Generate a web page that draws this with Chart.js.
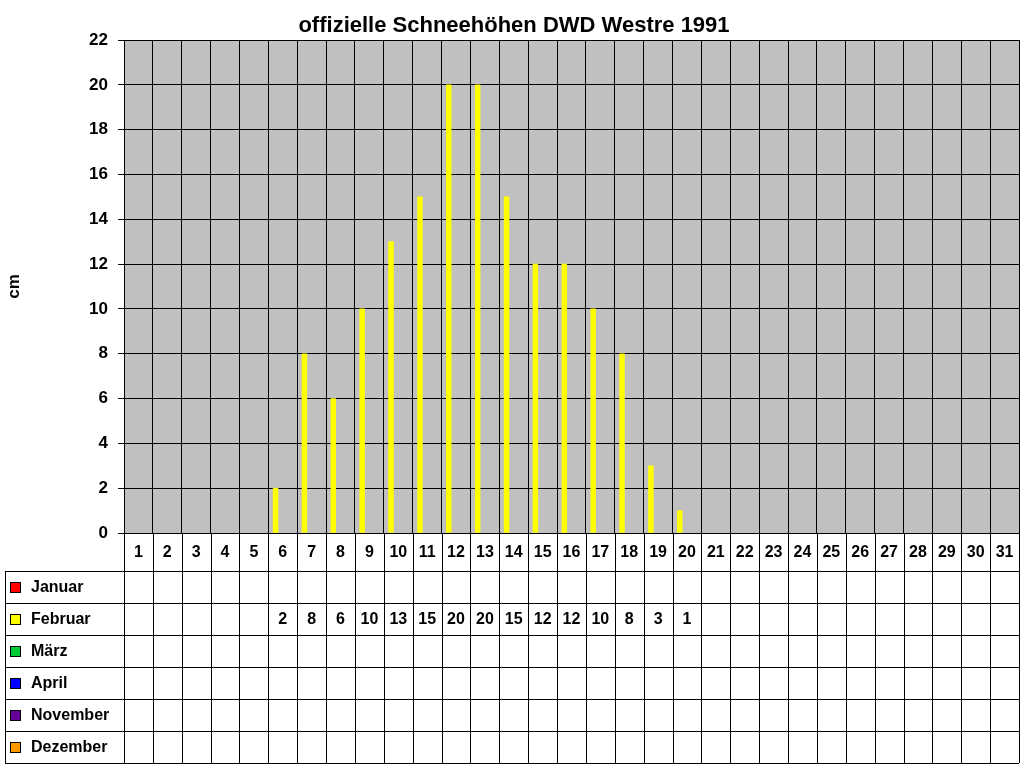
<!DOCTYPE html>
<html><head><meta charset="utf-8">
<script src="https://cdn.jsdelivr.net/npm/chart.js@4"></script>
<style>html,body{margin:0;padding:0;background:#fff}canvas{display:block}</style>
</head><body>
<canvas id="c" width="1024" height="768"></canvas>
<script>
const days = Array.from({length:31},(_,i)=>String(i+1));
const months = ["Januar","Februar","März","April","November","Dezember"];
const colors = ["#ff0000","#ffff00","#00cc33","#0000ff","#660099","#ff9900"];
const januar = [];
const februar = [null,null,null,null,null,2,8,6,10,13,15,20,20,15,12,12,10,8,3,1];
const maerz = [];
const april = [];
const november = [];
const dezember = [];
const series = [januar,februar,maerz,april,november,dezember];
const yTicksMax = 22;

const F = "Arial, 'Liberation Sans', sans-serif";
const rowTop = 571, rowH = 32, tableBottom = 763, legendLeft = 5;

const tablePlugin = {
  id:'tbl',
  beforeDraw(ch){
    const a = ch.chartArea, c = ch.ctx;
    c.save(); c.fillStyle='#c0c0c0'; c.fillRect(a.left,a.top,a.right-a.left,a.bottom-a.top); c.restore();
  },
  afterDraw(ch){
    const c = ch.ctx, a = ch.chartArea, x = ch.scales.x;
    c.save();
    c.fillStyle='#000'; c.font='bold 22px '+F; c.textAlign='center'; c.textBaseline='middle';
    c.fillText('offizielle Schneehöhen DWD Westre 1991', 514, 26);
    c.strokeStyle='#000'; c.lineWidth=1;
    const step = (a.right-a.left)/days.length;
    c.beginPath();
    for(let i=0;i<=days.length;i++){ const xx=Math.round(a.left+i*step)+0.5; c.moveTo(xx,a.bottom); c.lineTo(xx,tableBottom); }
    c.moveTo(legendLeft+0.5,rowTop); c.lineTo(legendLeft+0.5,tableBottom);
    for(let r=0;r<=months.length;r++){ const yy=rowTop+r*rowH+0.5; c.moveTo(legendLeft,yy); c.lineTo(a.right,yy); }
    c.moveTo(a.left,a.bottom+0.5); c.lineTo(a.right,a.bottom+0.5);
    c.stroke();
    c.font='bold 16px '+F;
    days.forEach((d,i)=>{ c.fillText(d, x.getPixelForValue(i), (a.bottom+rowTop)/2+1); });
    months.forEach((m,r)=>{
      const cy = rowTop + r*rowH + rowH/2 + 1;
      c.fillStyle=colors[r]; c.fillRect(10,cy-6,10,10); c.strokeRect(10.5,cy-5.5,10,10);
      c.fillStyle='#000'; c.textAlign='left'; c.fillText(m, 31, cy);
      c.textAlign='center';
      series[r].forEach((v,i)=>{ if(v!=null) c.fillText(String(v), x.getPixelForValue(i), cy); });
    });
    c.restore();
  }
};

new Chart(document.getElementById('c'), {
  type:'bar',
  data:{ labels:days, datasets: months.map((m,i)=>({label:m, data:series[i], backgroundColor:colors[i], borderWidth:0})) },
  options:{
    responsive:false, animation:false, devicePixelRatio:1,
    datasets:{bar:{categoryPercentage:1.0, barPercentage:1.0}},
    layout:{padding:{top:40,bottom:235,right:5,left:0}},
    plugins:{legend:{display:false}, title:{display:false}, tooltip:{enabled:false}},
    scales:{
      x:{ ticks:{display:false}, grid:{color:'#000', offset:true, drawTicks:false}, border:{color:'#000'},
          afterFit(s){ s.height=0; } },
      y:{ min:0, max:yTicksMax, ticks:{stepSize:2, color:'#000', font:{family:F, size:17, weight:'bold'}, padding:10},
          grid:{color:'#000', drawTicks:true, tickLength:6}, border:{color:'#000'},
          title:{display:true, text:'cm', color:'#000', font:{family:F, size:17, weight:'bold'}},
          afterFit(s){ s.width=124; } }
    }
  },
  plugins:[tablePlugin]
});
</script>
</body></html>
